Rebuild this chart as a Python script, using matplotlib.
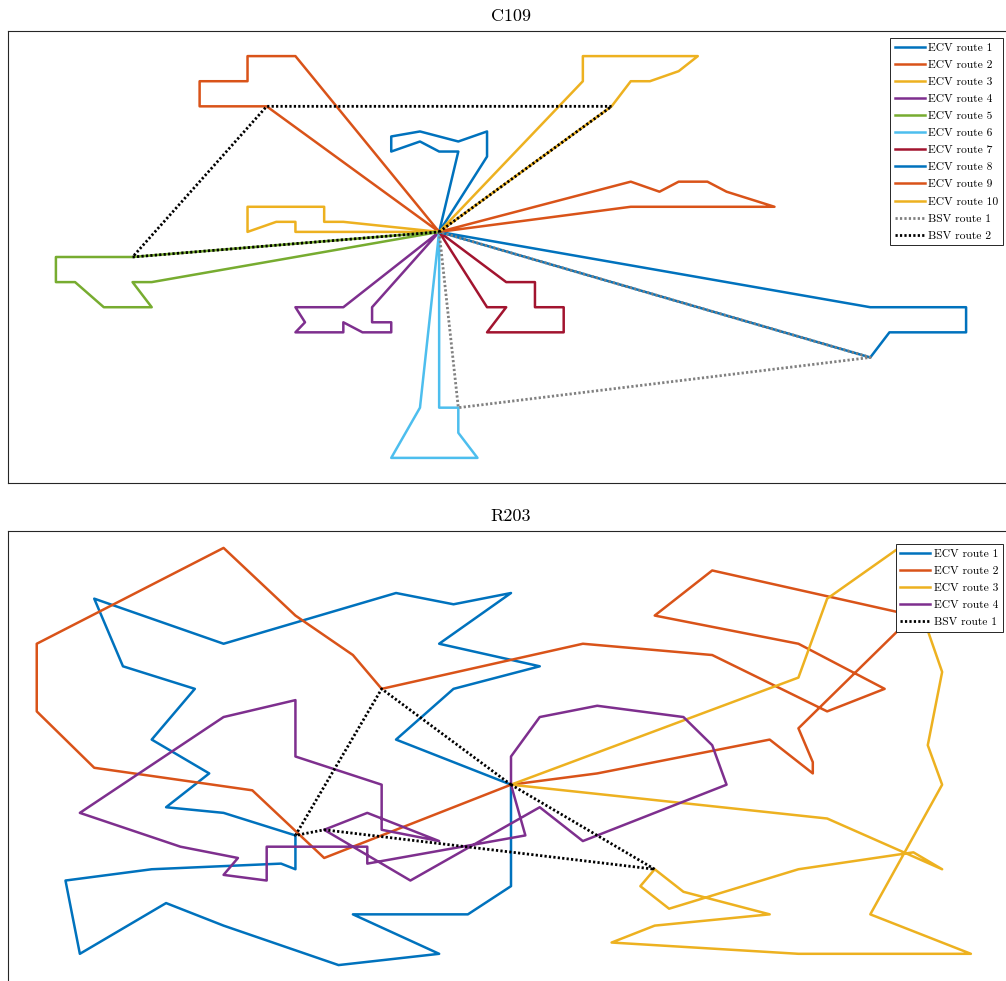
import numpy as np
import matplotlib
matplotlib.use("Agg")
import matplotlib.pyplot as plt

plt.rcParams["font.family"] = ["cmr10", "DejaVu Serif"]
plt.rcParams["axes.formatter.use_mathtext"] = True

# MATLAB default line colours
MATLAB_COLORS = ["#0072BD", "#D95319", "#EDB120", "#7E2F8E",
                 "#77AC30", "#4DBEEE", "#A2142F"]

# ---- C109 routes (depot at (40, 50)) ----
c109_ecv1 = [(40, 50), (42, 66), (40, 66), (38, 68), (35, 66), (35, 69), (38, 70),
             (42, 68), (45, 70), (45, 65), (40, 50)]
c109_ecv2 = [(40, 50), (25, 85), (22, 85), (20, 85), (20, 80), (15, 80), (15, 75),
             (18, 75), (22, 75), (40, 50)]
c109_ecv3 = [(40, 50), (30, 52), (28, 52), (28, 55), (25, 55), (23, 55), (20, 55),
             (20, 50), (23, 52), (25, 52), (25, 50), (40, 50)]
c109_ecv4 = [(40, 50), (30, 35), (28, 35), (25, 35), (26, 32), (25, 30), (28, 30),
             (30, 30), (30, 32), (32, 30), (35, 30), (35, 32), (33, 32), (33, 35), (40, 50)]
c109_ecv5 = [(40, 50), (8, 45), (5, 45), (0, 45), (0, 40), (2, 40), (5, 35),
             (10, 35), (8, 40), (10, 40), (40, 50)]
c109_ecv6 = [(40, 50), (38, 15), (35, 5), (38, 5), (40, 5), (44, 5), (42, 10),
             (42, 15), (40, 15), (40, 50)]
c109_ecv7 = [(40, 50), (47, 40), (48, 40), (50, 40), (50, 35), (53, 35), (53, 30),
             (50, 30), (48, 30), (45, 30), (47, 35), (45, 35), (40, 50)]
c109_ecv8 = [(40, 50), (85, 35), (88, 35), (90, 35), (95, 35), (95, 30), (92, 30),
             (88, 30), (87, 30), (85, 25), (40, 50)]
c109_ecv9 = [(40, 50), (60, 60), (63, 58), (65, 60), (68, 60), (70, 58), (75, 55),
             (72, 55), (66, 55), (65, 55), (60, 55), (40, 50)]
c109_ecv10 = [(40, 50), (55, 80), (55, 82), (55, 85), (60, 85), (65, 85), (67, 85),
              (65, 82), (62, 80), (60, 80), (58, 75), (40, 50)]
c109_bsv1 = [(40, 50), (42, 15), (85, 25), (40, 50)]
c109_bsv2 = [(40, 50), (58, 75), (22, 75), (8, 45), (40, 50)]

# ---- R203 routes (depot at (35, 35)) ----
r203_ecv1 = [(35, 35), (35, 17), (32, 12), (24, 12), (30, 5), (23, 3), (15, 10),
             (11, 14), (5, 5), (4, 18), (10, 20), (19, 21), (20, 20), (20, 26),
             (15, 30), (11, 31), (14, 37), (10, 43), (13, 52), (8, 56), (6, 68),
             (15, 60), (27, 69), (31, 67), (35, 69), (30, 60), (37, 56), (31, 52),
             (27, 43), (35, 35)]
r203_ecv2 = [(35, 35), (22, 22), (17, 34), (6, 38), (2, 48), (2, 60), (15, 77),
             (20, 65), (24, 58), (26, 52), (40, 60), (49, 58), (57, 48), (61, 52),
             (55, 60), (45, 65), (49, 73), (63, 65), (55, 45), (56, 39), (56, 37),
             (53, 43), (41, 37), (35, 35)]
r203_ecv3 = [(35, 35), (57, 29), (65, 20), (63, 23), (55, 20), (46, 13), (44, 17),
             (45, 20), (47, 16), (53, 12), (45, 10), (42, 7), (55, 5), (67, 5),
             (60, 12), (65, 35), (64, 42), (65, 55), (62, 77), (57, 68), (55, 54),
             (35, 35)]
r203_ecv4 = [(35, 35), (35, 40), (37, 47), (41, 49), (47, 47), (49, 42), (50, 35),
             (40, 25), (37, 31), (28, 18), (22, 27), (25, 30), (30, 25), (26, 27),
             (26, 35), (20, 40), (20, 50), (15, 47), (5, 30), (12, 24), (16, 22),
             (15, 19), (18, 18), (18, 24), (25, 24), (25, 21), (36, 26), (35, 35)]
r203_bsv1 = [(35, 35), (26, 52), (20, 26), (22, 27), (45, 20), (35, 35)]

c109_ecv = [c109_ecv1, c109_ecv2, c109_ecv3, c109_ecv4, c109_ecv5,
            c109_ecv6, c109_ecv7, c109_ecv8, c109_ecv9, c109_ecv10]
c109_bsv = [c109_bsv1, c109_bsv2]
c109_bsv_colors = ["#808080", "black"]
r203_ecv = [r203_ecv1, r203_ecv2, r203_ecv3, r203_ecv4]
r203_bsv = [r203_bsv1]
r203_bsv_colors = ["black"]

W, H = 1006, 981
fig = plt.figure(figsize=(W / 100, H / 100), dpi=100)


def draw_panel(ax, title, ecv, bsv, bsv_colors, xlim, ylim, legend_top):
    for i, route in enumerate(ecv):
        pts = np.array(route)
        ax.plot(pts[:, 0], pts[:, 1], color=MATLAB_COLORS[i % 7], lw=1.8,
                label=f"ECV route {i + 1}")
    for i, route in enumerate(bsv):
        pts = np.array(route)
        ax.plot(pts[:, 0], pts[:, 1], color=bsv_colors[i], lw=2.0,
                dashes=(0.8, 0.8), label=f"BSV route {i + 1}")
    ax.set_xlim(*xlim)
    ax.set_ylim(*ylim)
    ax.set_xticks([])
    ax.set_yticks([])
    for sp in ax.spines.values():
        sp.set_color("#262626")
        sp.set_linewidth(0.8)
    ax.set_title(title, fontsize=13, pad=7)
    leg = ax.legend(loc="upper right", bbox_to_anchor=(1003 / W, 1 - legend_top / H),
                    bbox_transform=fig.transFigure, borderaxespad=0, fontsize=8.3,
                    handlelength=2.6, handletextpad=0.3, borderpad=0.4,
                    labelspacing=0.61, fancybox=False, framealpha=1,
                    edgecolor="#262626")
    leg.get_frame().set_linewidth(0.7)


ax1 = fig.add_axes([8 / W, (H - 483) / H, 1006 / W, 452 / H])
draw_panel(ax1, "C109", c109_ecv, c109_bsv, c109_bsv_colors, (-5, 100), (0, 90), 38)

ax2 = fig.add_axes([8 / W, (H - 982) / H, 1006 / W, 451 / H])
draw_panel(ax2, "R203", r203_ecv, r203_bsv, r203_bsv_colors, (0, 70), (0, 80), 544)

fig.savefig("out.png", dpi=100)
